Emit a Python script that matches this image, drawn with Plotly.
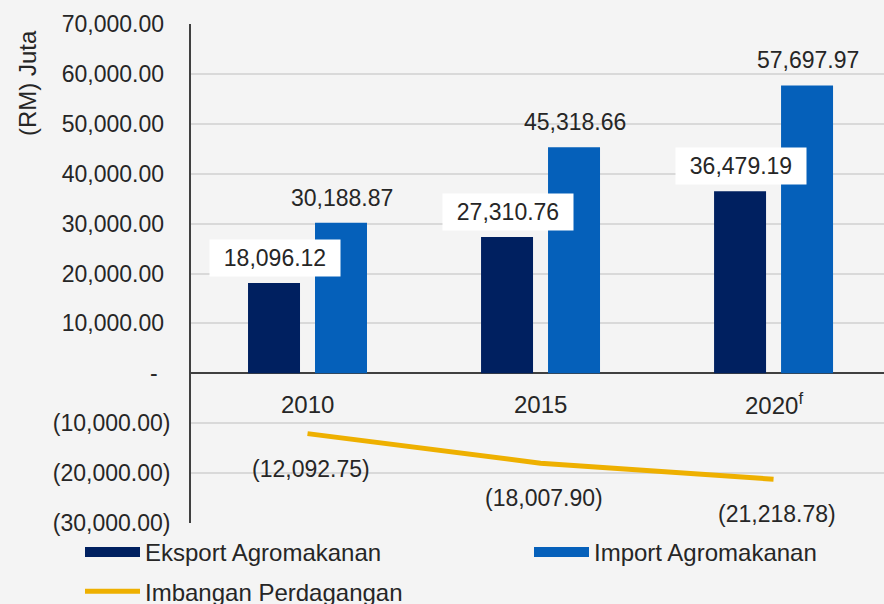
import plotly.graph_objects as go

years = ["2010", "2015", "2020"]
year_labels = ["2010", "2015", "2020<sup>f</sup>"]
eksport = [18096.12, 27310.76, 36479.19]
import_ = [30188.87, 45318.66, 57697.97]
imbangan = [-12092.75, -18007.90, -21218.78]

tick_vals = [70000, 60000, 50000, 40000, 30000, 20000, 10000, 0, -10000, -20000, -30000]


def fmt_tick(v):
    if v == 0:
        return "-\u00a0\u00a0"
    if v < 0:
        return "({:,.2f})".format(-v)
    return "{:,.2f}\u00a0".format(v)


def fmt_val(v):
    if v < 0:
        return "({:,.2f})".format(-v)
    return "{:,.2f}".format(v)


NAVY = "#002060"
BLUE = "#0560BA"
GOLD = "#EEB000"
TXT = "#262626"
BG = "#F4F4F4"
NUM = 23
LEG = 24

fig = go.Figure()
fig.add_trace(go.Bar(x=years, y=eksport, name="Eksport Agromakanan", showlegend=False,
                     marker=dict(color=NAVY, line=dict(width=0))))
fig.add_trace(go.Bar(x=years, y=import_, name="Import Agromakanan", showlegend=False,
                     marker=dict(color=BLUE, line=dict(width=0))))
fig.add_trace(go.Scatter(x=years, y=imbangan, name="Imbangan Perdagangan", mode="lines",
                         line=dict(color=GOLD, width=5), legend="legend",
                         legendgroup="c", legendrank=3))
# legend entries for the bar series (drawn as wide swatches)
fig.add_trace(go.Scatter(x=[None], y=[None], name="Eksport Agromakanan", mode="lines",
                         line=dict(color=NAVY, width=13), legend="legend",
                         legendgroup="a", legendrank=1))
fig.add_trace(go.Scatter(x=[None], y=[None], name="Import Agromakanan", mode="lines",
                         line=dict(color=BLUE, width=13), legend="legend2",
                         legendgroup="b", legendrank=2))

ann = []
for i, y in enumerate(years):
    ann.append(dict(x=i, y=0, text=year_labels[i], showarrow=False, yshift=-31,
                    font=dict(size=LEG, color=TXT)))
    ann.append(dict(x=i, y=eksport[i], text=fmt_val(eksport[i]), showarrow=False,
                    xshift=-33, yshift=25, bgcolor="white", width=124, height=30,
                    borderpad=3, font=dict(size=NUM, color=TXT)))
    ann.append(dict(x=i, y=import_[i], text=fmt_val(import_[i]), showarrow=False,
                    xshift=34, yshift=25, font=dict(size=NUM, color=TXT)))
    ann.append(dict(x=i, y=imbangan[i], text=fmt_val(imbangan[i]), showarrow=False,
                    xshift=3, yshift=-35, font=dict(size=NUM, color=TXT)))
ann.append(dict(xref="paper", yref="paper", x=-0.235, y=0.882, xanchor="center",
                yanchor="middle", text="(RM) Juta", textangle=-90, showarrow=False,
                font=dict(size=LEG, color=TXT)))

fig.update_layout(
    width=884, height=604,
    margin=dict(l=191, r=0, t=24, b=81, autoexpand=False),
    paper_bgcolor=BG, plot_bgcolor=BG,
    font=dict(family="Liberation Sans, Arial, sans-serif", size=LEG, color=TXT),
    barmode="group", bargap=0.425, bargroupgap=0.224,
    xaxis=dict(type="category", categoryarray=years, range=[-0.5, 2.474],
               showticklabels=False, showgrid=False, showline=False, zeroline=False),
    yaxis=dict(range=[-30000, 70000], tickvals=tick_vals,
               ticktext=[fmt_tick(v) for v in tick_vals],
               showgrid=True, gridcolor="#D9D9D9", gridwidth=1.5,
               showline=True, linecolor="#404040", linewidth=2,
               zeroline=True, zerolinecolor="#404040", zerolinewidth=2,
               ticks="", ticklabelstandoff=14, tickfont=dict(size=NUM, color=TXT)),
    legend=dict(xref="container", yref="container", x=80 / 884, xanchor="left",
                y=1 - 530 / 604, yanchor="top",
                orientation="v", bgcolor="rgba(0,0,0,0)", tracegroupgap=5,
                itemwidth=55, font=dict(size=LEG, color=TXT), traceorder="grouped"),
    legend2=dict(xref="container", yref="container", x=529 / 884, xanchor="left",
                 y=1 - 530 / 604, yanchor="top",
                 orientation="v", bgcolor="rgba(0,0,0,0)",
                 itemwidth=55, font=dict(size=LEG, color=TXT)),
    annotations=ann,
)

fig.write_html("out.html")
